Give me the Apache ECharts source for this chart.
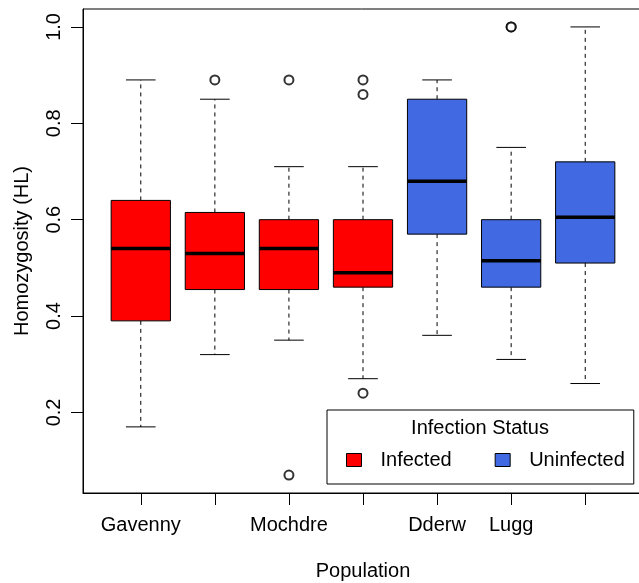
<!DOCTYPE html>
<html>
<head>
<meta charset="utf-8">
<script src="https://cdn.jsdelivr.net/npm/echarts@6/dist/echarts.min.js"></script>
<style>html,body{margin:0;padding:0;background:#fff}#c{width:639px;height:583px}</style>
</head>
<body>
<div id="c"></div>
<script>
// ---- data ----
const positions = [1, 2, 3, 4, 5, 6, 7];
const tickLabels = ['Gavenny', '', 'Mochdre', '', 'Dderw', 'Lugg', ''];
const status = ['Infected', 'Infected', 'Infected', 'Infected', 'Uninfected', 'Uninfected', 'Uninfected'];
const whiskerLow = [0.17, 0.32, 0.35, 0.27, 0.36, 0.31, 0.26];
const q1 = [0.39, 0.455, 0.455, 0.46, 0.57, 0.46, 0.51];
const median = [0.54, 0.53, 0.54, 0.49, 0.68, 0.515, 0.605];
const q3 = [0.64, 0.615, 0.60, 0.60, 0.85, 0.60, 0.72];
const whiskerHigh = [0.89, 0.85, 0.71, 0.71, 0.89, 0.75, 1.0];
const outlierPos = [2, 3, 3, 4, 4, 4, 6, 6];
const outlierVal = [0.89, 0.89, 0.07, 0.89, 0.86, 0.24, 1.0, 1.0];
const yTicks = [0.2, 0.4, 0.6, 0.8, 1.0];

const FONT = 'Liberation Sans, Arial, Helvetica, sans-serif';
const colors = { Infected: '#FF0000', Uninfected: '#4169E1' };

function boxData(group) {
  const out = [];
  positions.forEach((p, i) => {
    if (status[i] === group) out.push([p, whiskerLow[i], q1[i], median[i], q3[i], whiskerHigh[i]]);
  });
  return out;
}

function renderBox(params, api) {
  const x = api.value(0);
  const lo = api.coord([x, api.value(1)]);
  const b1 = api.coord([x, api.value(2)]);
  const md = api.coord([x, api.value(3)]);
  const b3 = api.coord([x, api.value(4)]);
  const hi = api.coord([x, api.value(5)]);
  const w = api.size([0.8, 0])[0];
  const cx = lo[0];
  const fill = api.visual('color');
  const dash = { stroke: '#000', lineWidth: 1, lineDash: [4, 4] };
  const solid = { stroke: '#000', lineWidth: 1 };
  return {
    type: 'group',
    children: [
      { type: 'line', shape: { x1: cx, y1: b3[1], x2: cx, y2: hi[1] }, style: dash },
      { type: 'line', shape: { x1: cx, y1: b1[1], x2: cx, y2: lo[1] }, style: dash },
      { type: 'line', shape: { x1: cx - w / 4, y1: hi[1], x2: cx + w / 4, y2: hi[1] }, style: solid },
      { type: 'line', shape: { x1: cx - w / 4, y1: lo[1], x2: cx + w / 4, y2: lo[1] }, style: solid },
      { type: 'rect', shape: { x: cx - w / 2, y: b3[1], width: w, height: b1[1] - b3[1] },
        style: { fill: fill, stroke: '#000', lineWidth: 1 } },
      { type: 'line', shape: { x1: cx - w / 2, y1: md[1], x2: cx + w / 2, y2: md[1] },
        style: { stroke: '#000', lineWidth: 3.5 } }
    ]
  };
}

const chart = echarts.init(document.getElementById('c'), null, { renderer: 'canvas' });
chart.setOption({
  animation: false,
  backgroundColor: '#fff',
  textStyle: { fontFamily: FONT },
  grid: { left: 83, top: 9, width: 560, height: 484, containLabel: false, outerBoundsMode: 'none',
    show: true, borderColor: '#000', borderWidth: 1, backgroundColor: 'transparent' },
  xAxis: {
    type: 'value', min: 0.22, max: 7.78,
    name: 'Population', nameLocation: 'middle', nameGap: 68,
    nameTextStyle: { color: '#000', fontSize: 20, fontFamily: FONT },
    axisLine: { show: true, lineStyle: { color: '#000', width: 1 } },
    axisTick: { show: true, length: 12, lineStyle: { color: '#000' }, customValues: positions },
    axisLabel: { color: '#000', fontSize: 20, fontFamily: FONT, margin: 22, customValues: positions,
      formatter: v => tickLabels[Math.round(v) - 1] || '' },
    splitLine: { show: false }
  },
  yAxis: {
    type: 'value', min: 0.0328, max: 1.0372,
    name: 'Homozygosity (HL)', nameLocation: 'middle', nameGap: 51, nameRotate: 90,
    nameTextStyle: { color: '#000', fontSize: 20, fontFamily: FONT },
    axisLine: { show: true, lineStyle: { color: '#000', width: 1 } },
    axisTick: { show: true, length: 12, lineStyle: { color: '#000' }, customValues: yTicks },
    axisLabel: { color: '#000', fontSize: 20, fontFamily: FONT, rotate: 90, margin: 19, customValues: yTicks,
      formatter: v => v.toFixed(1) },
    splitLine: { show: false }
  },
  legend: {
    left: 327, top: 410,
    data: ['Infected', 'Uninfected'],
    icon: 'rect', itemWidth: 15, itemHeight: 13, itemGap: 43,
    padding: [40, 9, 14, 19],
    backgroundColor: '#fff', borderColor: '#000', borderWidth: 1,
    textStyle: { color: '#000', fontSize: 20, fontFamily: FONT, lineHeight: 20, padding: [0, 0, 0, 14] },
    itemStyle: { borderColor: '#000', borderWidth: 1 },
    z: 10
  },
  graphic: [{
    type: 'text', x: 480, y: 428, z: 100,
    style: { text: 'Infection Status', fill: '#000', font: '20px ' + FONT, align: 'center', verticalAlign: 'middle' }
  }],
  series: [
    { name: 'Infected', type: 'custom', renderItem: renderBox, data: boxData('Infected'),
      itemStyle: { color: colors.Infected, borderColor: '#000', borderWidth: 1 }, encode: { x: 0, y: [1, 2, 3, 4, 5] } },
    { name: 'Uninfected', type: 'custom', renderItem: renderBox, data: boxData('Uninfected'),
      itemStyle: { color: colors.Uninfected, borderColor: '#000', borderWidth: 1 }, encode: { x: 0, y: [1, 2, 3, 4, 5] } },
    { name: 'Outliers', type: 'scatter', symbol: 'emptyCircle', symbolSize: 9,
      itemStyle: { color: '#000', borderColor: '#000', borderWidth: 1.2 },
      data: outlierPos.map((p, i) => [p, outlierVal[i]]) }
  ]
});
</script>
</body>
</html>
